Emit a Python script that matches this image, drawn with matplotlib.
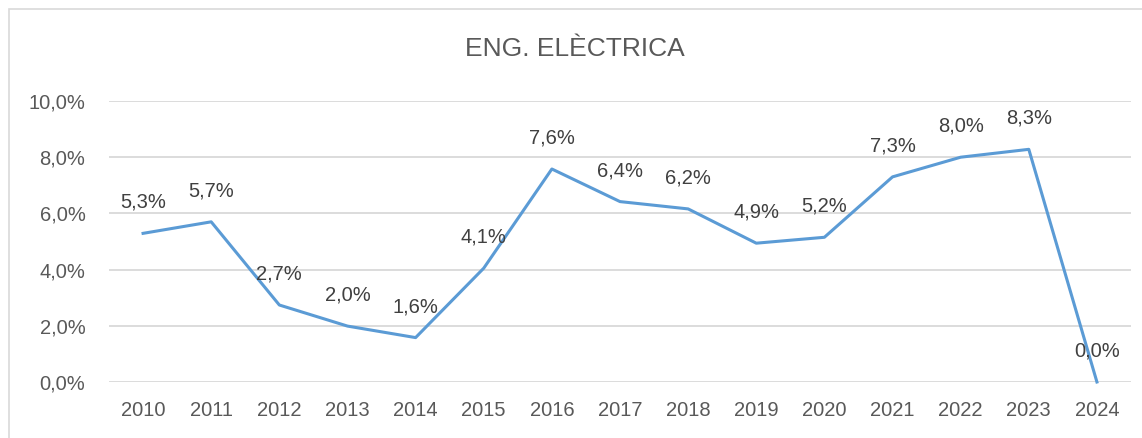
import matplotlib
matplotlib.use("Agg")
import matplotlib.pyplot as plt
from matplotlib.patches import Rectangle

# chart data
years = ['2010', '2011', '2012', '2013', '2014', '2015', '2016', '2017',
         '2018', '2019', '2020', '2021', '2022', '2023', '2024']
values = [5.29, 5.70, 2.74, 1.99, 1.58, 4.05, 7.58, 6.42,
          6.16, 4.94, 5.15, 7.30, 8.00, 8.28, 0.0]
labels = ['5,3%', '5,7%', '2,7%', '2,0%', '1,6%', '4,1%', '7,6%', '6,4%',
          '6,2%', '4,9%', '5,2%', '7,3%', '8,0%', '8,3%', '0,0%']
yticks = [0, 2, 4, 6, 8, 10]
ytick_labels = ['0,0%', '2,0%', '4,0%', '6,0%', '8,0%', '10,0%']

plt.rcParams['font.family'] = ['Liberation Sans', 'DejaVu Sans']

W, H = 1142, 438
fig = plt.figure(figsize=(W / 100, H / 100), dpi=100)

# outer chart border (only left / top visible in the crop)
fig.patches.append(Rectangle((9 / W, -0.5), 2, 1.5 - 9 / H,
                             transform=fig.transFigure, fill=False,
                             edgecolor='#D9D9D9', linewidth=1.2))

ax = fig.add_axes([109 / W, 1 - 382 / H, (1131 - 109) / W, (382 - 101) / H])
x = list(range(len(years)))
ax.plot(x, values, color='#5B9BD5', linewidth=2.2, clip_on=False, zorder=3)

for xi, v, lab in zip(x, values, labels):
    ax.annotate(lab, (xi, v), xytext=(0, 31), textcoords='offset pixels',
                ha='center', va='center', fontsize=14.5, color='#404040',
                zorder=4)

ax.set_xlim(-0.5, len(years) - 0.5)
ax.set_ylim(0, 10)
ax.set_yticks(yticks)
ax.set_yticklabels(ytick_labels)
ax.set_xticks(x)
ax.set_xticklabels(years)
ax.tick_params(axis='both', length=0, labelsize=14.5, labelcolor='#595959')
ax.tick_params(axis='y', pad=17)
ax.tick_params(axis='x', pad=14)
ax.grid(axis='y', color='#D9D9D9', linewidth=1.3)
ax.set_axisbelow(True)
for s in ax.spines.values():
    s.set_visible(False)

fig.text(575 / W, 1 - 49 / H, 'ENG. ELÈCTRICA', ha='center', va='center',
         fontsize=19, color='#595959')

fig.savefig('out.png', dpi=100)
